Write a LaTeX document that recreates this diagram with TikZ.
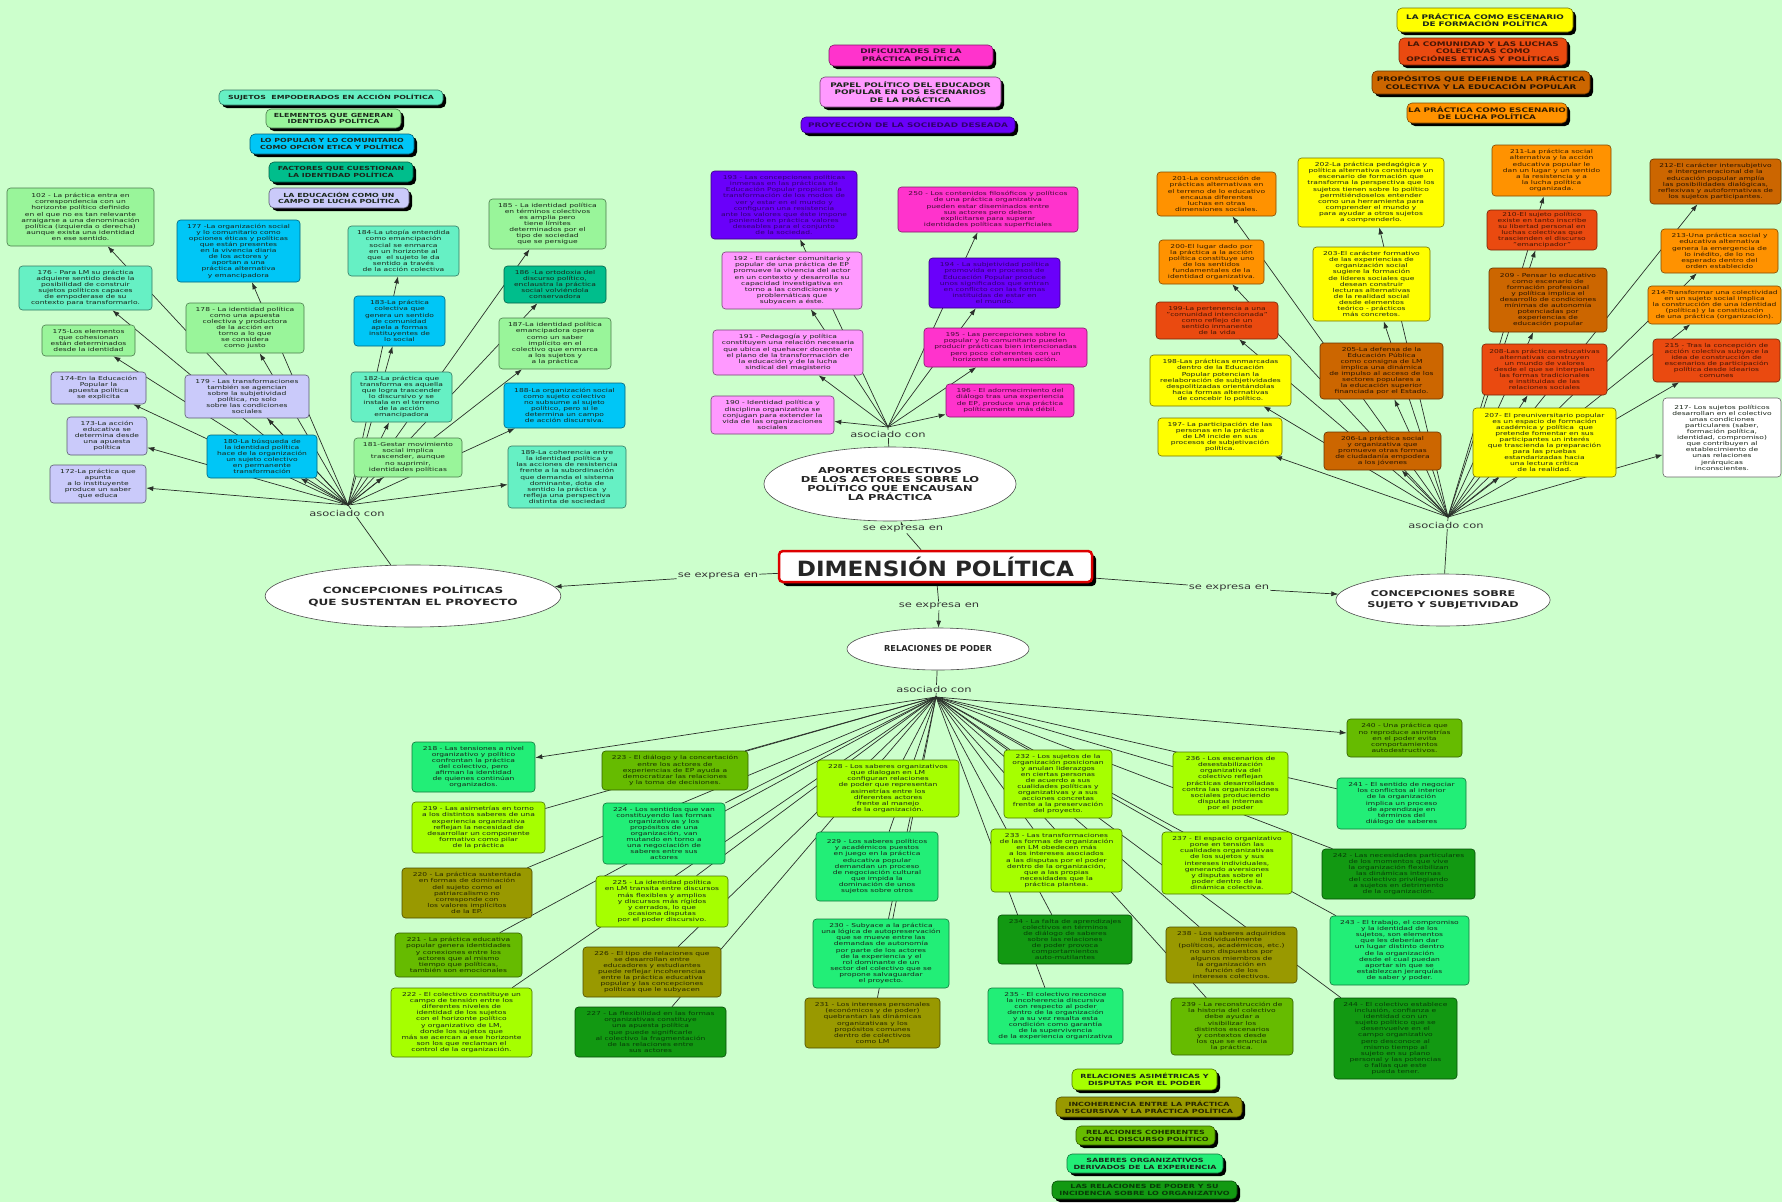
\documentclass[tikz,border=0pt]{standalone}
\usepackage{fontspec}
\setmainfont{DejaVu Sans}[FakeStretch=1.4]
\newfontfamily\titlefam{DejaVu Sans}[FakeStretch=1.1]
\newfontfamily\plainfam{DejaVu Sans}
\usetikzlibrary{shapes.geometric,arrows.meta,shadows}
\pgfdeclarelayer{bgl}\pgfdeclarelayer{lnl}\pgfsetlayers{bgl,lnl,main}
\definecolor{bgc}{HTML}{CCFFCC}
\definecolor{txd}{HTML}{1A261A}
\definecolor{lnc}{HTML}{2A302A}
\definecolor{cPale}{HTML}{99F59A}
\definecolor{cAqua}{HTML}{66F0C4}
\definecolor{cSky}{HTML}{00C6F6}
\definecolor{cTeal}{HTML}{00BE8C}
\definecolor{cLav}{HTML}{CACAFA}
\definecolor{cHot}{HTML}{FF33CC}
\definecolor{cViol}{HTML}{FF99FF}
\definecolor{cPurp}{HTML}{6A00FA}
\definecolor{cYel}{HTML}{FFFF00}
\definecolor{cRed}{HTML}{EA4A10}
\definecolor{cBrn}{HTML}{CC6600}
\definecolor{cOrg}{HTML}{FF9200}
\definecolor{cChart}{HTML}{A6FF00}
\definecolor{cSpring}{HTML}{22EE77}
\definecolor{cYG}{HTML}{66BB00}
\definecolor{cOlive}{HTML}{999900}
\definecolor{cDG}{HTML}{129912}
\definecolor{cTitle}{HTML}{DD0000}
\newcommand\mybody{\fontsize{5.4}{6.1}\selectfont}
\newcommand\mylegL{\fontsize{5.6}{6.2}\selectfont\bfseries}
\newcommand\mylegT{\fontsize{6.3}{7.7}\selectfont\bfseries}
\newcommand\mylegB{\fontsize{5.7}{7}\selectfont\bfseries}
\newcommand\myell{\fontsize{8.2}{9}\selectfont\bfseries}
\newcommand\mylink{\fontsize{8.2}{9}\selectfont}
\newcommand\nbox[7]{\node[#2, minimum width={#5-#3}, minimum height={#6-#4}] (#1) at ({(#3+#5)/2},{(#4+#6)/2}) {#7};}
\tikzset{
 nb/.style={rounded corners=3.5pt, line width=0.6pt, align=center, inner sep=1pt, font=\mybody},
 sPale/.style={nb, fill=cPale, draw=cPale!50!black, text=txd},
 sAqua/.style={nb, fill=cAqua, draw=cAqua!50!black, text=txd},
 sSky/.style={nb, fill=cSky, draw=cSky!50!black, text=txd},
 sTeal/.style={nb, fill=cTeal, draw=cTeal!50!black, text=txd},
 sLav/.style={nb, fill=cLav, draw=cLav!45!black, text=txd},
 sHot/.style={nb, fill=cHot, draw=cHot!50!black, text=cHot!25!black},
 sViol/.style={nb, fill=cViol, draw=cViol!45!black, text=txd},
 sPurp/.style={nb, fill=cPurp, draw=cPurp!50!black, text=cPurp!45!black},
 sYel/.style={nb, fill=cYel, draw=cYel!45!black, text=txd},
 sRed/.style={nb, fill=cRed, draw=cRed!50!black, text=cRed!30!black},
 sBrn/.style={nb, fill=cBrn, draw=cBrn!50!black, text=cBrn!20!black},
 sOrg/.style={nb, fill=cOrg, draw=cOrg!50!black, text=cOrg!20!black},
 sWhite/.style={nb, fill=white, draw=black!60, text=txd},
 sChart/.style={nb, fill=cChart, draw=cChart!45!black, text=txd},
 sSpring/.style={nb, fill=cSpring, draw=cSpring!50!black, text=txd},
 sYG/.style={nb, fill=cYG, draw=cYG!50!black, text=cYG!25!black},
 sOlive/.style={nb, fill=cOlive, draw=cOlive!50!black, text=cOlive!25!black},
 sDG/.style={nb, fill=cDG, draw=cDG!50!black, text=cDG!40!black},
 lg/.style={rounded corners=5pt, drop shadow={shadow xshift=3pt, shadow yshift=-3pt, opacity=1, fill=black}},
 lgL/.style={lg, font=\mylegL},
 lgT/.style={lg, font=\mylegT},
 lgB/.style={lg, font=\mylegB},
 ell/.style={ellipse, draw=black!70, fill=white, line width=0.6pt, inner sep=0pt, align=center, text=black!85, font=\myell},
 link/.style={fill=bgc, inner sep=1pt, text=black!80, font=\mylink},
 conn/.style={draw=lnc, line width=0.7pt},
 arr/.style={conn, -{Latex[length=7pt,width=5pt]}}
}
\begin{document}
\begin{tikzpicture}[x=1pt, y=-1pt]
\begin{pgfonlayer}{bgl}
\fill[bgc] (0,0) rectangle (1782,1202);
\end{pgfonlayer}
\useasboundingbox (0,0) rectangle (1782,1202);

% ---------- legends ----------
\nbox{lg1}{sAqua,lgL}{219}{90}{443}{105}{SUJETOS \ EMPODERADOS EN ACCIÓN POLÍTICA}
\nbox{lg2}{sPale,lgL}{266}{109}{401}{128}{ELEMENTOS QUE GENERAN\\IDENTIDAD POLÍTICA}
\nbox{lg3}{sSky,lgL}{250}{134}{414}{154}{LO POPULAR Y LO COMUNITARIO\\COMO OPCIÓN ETICA Y POLÍTICA}
\nbox{lg4}{sTeal,lgL}{269}{162}{413}{182}{FACTORES QUE CUESTIONAN\\LA IDENTIDAD POLÍTICA}
\nbox{lg5}{sLav,lgL}{269}{188}{409}{208}{LA EDUCACIÓN COMO UN\\CAMPO DE LUCHA POLÍTICA}
\nbox{lg6}{sHot,lgT}{829}{45}{993}{66}{DIFICULTADES DE LA\\PRÁCTICA POLÍTICA}
\nbox{lg7}{sViol,lgT}{820}{77}{1001}{107}{PAPEL POLÍTICO DEL EDUCADOR\\POPULAR EN LOS ESCENARIOS\\DE LA PRÁCTICA}
\nbox{lg8}{sPurp,lgT}{801}{117}{1015}{133}{PROYECCIÓN DE LA SOCIEDAD DESEADA}
\nbox{lg9}{sYel,lgT}{1397}{8}{1573}{32}{LA PRÁCTICA COMO ESCENARIO\\DE FORMACIÓN POLÍTICA}
\nbox{lg10}{sRed,lgT}{1399}{38}{1567}{65}{LA COMUNIDAD Y LAS LUCHAS\\COLECTIVAS COMO\\OPCIÓNES ETICAS Y POLÍTICAS}
\nbox{lg11}{sBrn,lgT}{1372}{71}{1590}{94}{PROPÓSITOS QUE DEFIENDE LA PRÁCTICA\\COLECTIVA Y LA EDUCACIÓN POPULAR}
\nbox{lg12}{sOrg,lgT}{1407}{103}{1567}{123}{LA PRÁCTICA COMO ESCENARIO\\DE LUCHA POLÍTICA}
\nbox{lg13}{sChart,lgB}{1072}{1069}{1217}{1090}{RELACIONES ASIMÉTRICAS Y\\DISPUTAS POR EL PODER}
\nbox{lg14}{sOlive,lgB}{1056}{1097}{1242}{1117}{INCOHERENCIA ENTRE LA PRÁCTICA\\DISCURSIVA Y LA PRÁCTICA POLÍTICA}
\nbox{lg15}{sYG,lgB}{1076}{1126}{1215}{1145}{RELACIONES COHERENTES\\CON EL DISCURSO POLÍTICO}
\nbox{lg16}{sSpring,lgB}{1067}{1154}{1223}{1173}{SABERES ORGANIZATIVOS\\DERIVADOS DE LA EXPERIENCIA}
\nbox{lg17}{sDG,lgB}{1052}{1181}{1237}{1199}{LAS RELACIONES DE PODER Y SU\\INCIDENCIA SOBRE LO ORGANIZATIVO}

% ---------- central concepts ----------
\node[draw=cTitle, line width=2.5pt, rounded corners=4pt, fill=white, text=black!85,
  drop shadow={shadow xshift=4pt, shadow yshift=-4pt, opacity=1, fill=black},
  minimum width=313, minimum height=31, inner sep=0pt,
  font={\titlefam\fontsize{21}{24}\selectfont\bfseries}] (dim) at (935.5,566.5) {DIMENSIÓN POLÍTICA};
\node[ell, minimum width=224, minimum height=74] (eA) at (890,484) {APORTES COLECTIVOS\\DE LOS ACTORES SOBRE LO\\POLÍTICO QUE ENCAUSAN\\LA PRÁCTICA};
\node[ell, minimum width=240, minimum height=62, font={\fontsize{8.6}{12}\selectfont\bfseries}] (eL) at (413,596) {CONCEPCIONES POLÍTICAS\\QUE SUSTENTAN EL PROYECTO};
\node[ell, minimum width=208, minimum height=52, font={\fontsize{8}{11}\selectfont\bfseries}] (eR) at (1443,600) {CONCEPCIONES SOBRE\\SUJETO Y SUBJETIVIDAD};
\node[ell, minimum width=182, minimum height=42, font={\plainfam\fontsize{8.2}{9}\selectfont\bfseries}] (eP) at (938,649) {RELACIONES DE PODER};

\node[link] (lA) at (903,529) {se expresa en};
\node[link] (lL) at (718,576) {se expresa en};
\node[link] (lR) at (1229,588) {se expresa en};
\node[link] (lB) at (939,606) {se expresa en};
\node[link] (asL) at (347,513) {asociado con};
\node[link] (asA) at (888,434) {asociado con};
\node[link] (asR) at (1446,525) {asociado con};
\node[link] (asB) at (934,689) {asociado con};
\coordinate (hL) at (348,505);
\coordinate (hA) at (888,427);
\coordinate (hR) at (1448,517);
\coordinate (hB) at (936,697);

% ---------- left group ----------
\nbox{n102}{sPale}{7}{188}{154}{246}{102 - La práctica entra en\\correspondencia con un\\horizonte político definido\\en el que no es tan relevante\\arraigarse a una denominación\\política (izquierda o derecha)\\aunque exista una identidad\\en ese sentido.}
\nbox{n176}{sAqua}{19}{266}{152}{310}{176 - Para LM su práctica\\adquiere sentido desde la\\posibilidad de construir\\sujetos políticos capaces\\de empoderase de su\\contexto para transformarlo.}
\nbox{n175}{sPale}{42}{325}{135}{356}{175-Los elementos\\que cohesionan\\están determinados\\desde la identidad}
\nbox{n174}{sLav}{51}{372}{146}{404}{174-En la Educación\\Popular la\\apuesta política\\se explicita}
\nbox{n173}{sLav}{67}{417}{147}{455}{173-La acción\\educativa se\\determina desde\\una apuesta\\política}
\nbox{n172}{sLav}{50}{465}{146}{503}{172-La práctica que\\apunta\\a lo instituyente\\produce un saber\\que educa}
\nbox{n177}{sSky}{177}{220}{300}{282}{177 -La organización social\\y lo comunitario como\\opciones éticas y políticas\\que están presentes\\en la vivencia diaria\\de los actores y\\aportan a una\\práctica alternativa\\y emancipadora}
\nbox{n178}{sPale}{186}{303}{304}{353}{178 - La identidad política\\como una apuesta\\colectiva y productora\\de la acción en\\torno a lo que\\se considera\\como justo}
\nbox{n179}{sLav}{185}{375}{309}{418}{179 - Las transformaciones\\también se agencian\\sobre la subjetividad\\política, no solo\\sobre las condiciones\\sociales}
\nbox{n180}{sSky}{207}{435}{317}{478}{180-La búsqueda de\\la identidad política\\hace de la organización\\un sujeto colectivo\\en permanente\\transformación}
\nbox{n184}{sAqua}{348}{226}{459}{276}{184-La utopía entendida\\como emancipación\\social se enmarca\\en un horizonte al\\que \ el sujeto le da\\sentido a través\\de la acción colectiva}
\nbox{n183}{sSky}{354}{296}{445}{346}{183-La práctica\\colectiva que\\genera un sentido\\de comunidad\\apela a formas\\instituyentes de\\lo social}
\nbox{n182}{sAqua}{351}{372}{452}{422}{182-La práctica que\\transforma es aquella\\que logra trascender\\lo discursivo y se\\instala en el terreno\\de la acción\\emancipadora}
\nbox{n181}{sPale}{354}{438}{462}{477}{181-Gestar movimiento\\social implica\\trascender, aunque\\no suprimir,\\identidades políticas}
\nbox{n185}{sPale}{489}{199}{606}{249}{185 - La identidad política\\en términos colectivos\\es amplia pero\\tiene límites\\determinados por el\\tipo de sociedad\\que se persigue}
\nbox{n186}{sTeal}{504}{266}{606}{303}{186 -La ortodoxia del\\discurso político,\\enclaustra la práctica\\social volviéndola\\conservadora}
\nbox{n187}{sPale}{499}{318}{611}{369}{187-La identidad política\\emancipadora opera\\como un saber\\implícito en el\\colectivo que enmarca\\a los sujetos y\\a la práctica}
\nbox{n188}{sSky}{504}{383}{625}{428}{188-La organización social\\como sujeto colectivo\\no subsume al sujeto\\político, pero si le\\determina un campo\\de acción discursiva.}
\nbox{n189}{sAqua}{508}{446}{626}{508}{189-La coherencia entre\\la identidad política y\\las acciones de resistencia\\frente a la subordinación\\que demanda el sistema\\dominante, dota de\\sentido la práctica \ y\\refleja una perspectiva\\distinta de sociedad}

% ---------- top centre group ----------
\nbox{n193}{sPurp}{711}{171}{857}{239}{193 - Las concepciones políticas\\inmersas en las prácticas de\\Educación Popular propician la\\transformación de los modos de\\ver y estar en el mundo y\\configuran una resistencia\\ante los valores que éste impone\\poniendo en práctica valores\\deseables para el conjunto\\de la sociedad.}
\nbox{n192}{sViol}{722}{252}{862}{309}{192 - El carácter comunitario y\\popular de una práctica de EP\\promueve la vivencia del actor\\en un contexto y desarrolla su\\capacidad investigativa en\\torno a las condiciones y\\problemáticas que\\subyacen a éste.}
\nbox{n191}{sViol}{713}{330}{863}{375}{191 - Pedagogía y política\\constituyen una relación necesaria\\que ubica el quehacer docente en\\el plano de la transformación de\\la educación y de la lucha\\sindical del magisterio}
\nbox{n190}{sViol}{711}{396}{834}{434}{190 - Identidad política y\\disciplina organizativa se\\conjugan para extender la\\vida de las organizaciones\\sociales}
\nbox{n250}{sHot}{898}{187}{1078}{232}{250 - Los contenidos filosóficos y políticos\\de una práctica organizativa\\pueden estar diseminados entre\\sus actores pero deben\\explicitarse para superar\\identidades políticas superficiales}
\nbox{n194}{sPurp}{929}{258}{1060}{308}{194 - La subjetividad política\\promovida en procesos de\\Educación Popular produce\\unos significados que entran\\en conflicto con las formas\\instituidas de estar en\\el mundo.}
\nbox{n195}{sHot}{924}{328}{1087}{367}{195 - Las percepciones sobre lo\\popular y lo comunitario pueden\\producir prácticas bien intencionadas\\pero poco coherentes con un\\horizonte de emancipación.}
\nbox{n196}{sHot}{946}{384}{1074}{417}{196 - El adormecimiento del\\diálogo tras una experiencia\\de EP, produce una práctica\\políticamente más débil.}

% ---------- right group ----------
\nbox{n201}{sOrg}{1157}{172}{1276}{216}{201-La construcción de\\prácticas alternativas en\\el terreno de lo educativo\\encausa diferentes\\luchas en otras\\dimensiones sociales.}
\nbox{n202}{sYel}{1298}{158}{1444}{227}{202-La práctica pedagógica y\\política alternativa constituye un\\escenario de formación que\\transforma la perspectiva que los\\sujetos tienen sobre lo político\\permitiéndoselos entender\\como una herramienta para\\comprender el mundo y\\para ayudar a otros sujetos\\a comprenderlo.}
\nbox{n200}{sOrg}{1159}{240}{1264}{284}{200-El lugar dado por\\la práctica a la acción\\política constituye uno\\de los sentidos\\fundamentales de la\\identidad organizativa.}
\nbox{n203}{sYel}{1313}{247}{1430}{321}{203-El carácter formativo\\de las experiencias de\\organización social\\sugiere la formación\\de líderes sociales que\\desean construir\\lecturas alternativas\\de la realidad social\\desde elementos\\teórico - prácticos\\más concretos.}
\nbox{n199}{sRed}{1156}{302}{1278}{339}{199-La pertenencia a una\\"comunidad intencionada"\\como reflejo de un\\sentido inmanente\\de la vida}
\nbox{n198}{sYel}{1150}{355}{1291}{406}{198-Las prácticas enmarcadas\\dentro de la Educación\\Popular potencian la\\reelaboración de subjetividades\\despolitizadas orientándolas\\hacia formas alternativas\\de concebir lo político.}
\nbox{n205}{sBrn}{1320}{343}{1443}{399}{205-La defensa de la\\Educación Pública\\como consigna de LM\\implica una dinámica\\de impulso al acceso de los\\sectores populares a\\la educación superior\\financiada por el Estado.}
\nbox{n197}{sYel}{1158}{418}{1282}{456}{197- La participación de las\\personas en la práctica\\de LM incide en sus\\procesos de subjetivación\\política.}
\nbox{n206}{sBrn}{1324}{432}{1441}{470}{206-La práctica social\\y organizativa que\\promueve otras formas\\de ciudadanía empodera\\a los jóvenes}
\nbox{n211}{sOrg}{1492}{145}{1611}{196}{211-La práctica social\\alternativa y la acción\\educativa popular le\\dan un lugar y un sentido\\a la resistencia y a\\la lucha política\\organizada.}
\nbox{n212}{sBrn}{1650}{159}{1781}{204}{212-El carácter intersubjetivo\\e intergeneracional de la\\educación popular amplía\\las posibilidades dialógicas,\\reflexivas y autoformativas de\\los sujetos participantes.}
\nbox{n210}{sRed}{1487}{210}{1597}{250}{210-El sujeto político\\existe en tanto inscribe\\su libertad personal en\\luchas colectivas que\\trascienden el discurso\\"emancipador"}
\nbox{n213}{sOrg}{1661}{229}{1778}{273}{213-Una práctica social y\\educativa alternativa\\genera la emergencia de\\lo inédito, de lo no\\esperado dentro del\\orden establecido}
\nbox{n209}{sBrn}{1489}{268}{1607}{332}{209 - Pensar lo educativo\\como escenario de\\formación profesional\\y política implica el\\desarrollo de condiciones\\mínimas de autonomía\\potenciadas por\\experiencias de\\educación popular}
\nbox{n214}{sOrg}{1648}{286}{1781}{324}{214-Transformar una colectividad\\en un sujeto social implica\\la construcción de una identidad\\(política) y la constitución\\de una práctica (organización).}
\nbox{n208}{sRed}{1482}{344}{1607}{395}{208-Las prácticas educativas\\alternativas construyen\\un mundo de valores\\desde el que se interpelan\\las formas tradicionales\\e instituidas de las\\relaciones sociales}
\nbox{n215}{sRed}{1653}{339}{1780}{382}{215 - Tras la concepción de\\acción colectiva subyace la\\idea de construcción de\\escenarios de participación\\política desde idearios\\comunes}
\nbox{n207}{sYel}{1473}{408}{1616}{477}{207- El preuniversitario popular\\es un espacio de formación\\académica y política \ que\\pretende fomentar en sus\\participantes un interés\\que trascienda la preparación\\para las pruebas\\estandarizadas hacia\\una lectura crítica\\de la realidad.}
\nbox{n217}{sWhite}{1663}{398}{1781}{477}{217- Los sujetos políticos\\desarrollan en el colectivo\\unas condiciones\\particulares (saber,\\formación política,\\identidad, compromiso)\\que contribuyen al\\establecimiento de\\unas relaciones\\jerárquicas\\inconscientes.}

% ---------- bottom group ----------
\nbox{n218}{sSpring}{412}{742}{535}{792}{218 - Las tensiones a nivel\\organizativo y político\\confrontan la práctica\\del colectivo, pero\\afirman la identidad\\de quienes continúan\\organizados.}
\nbox{n219}{sChart}{412}{802}{545}{853}{219 - Las asimetrías en torno\\a los distintos saberes de una\\experiencia organizativa\\reflejan la necesidad de\\desarrollar un componente\\formativo como pilar\\de la práctica}
\nbox{n220}{sOlive}{402}{868}{532}{918}{220 - La práctica sustentada\\en formas de dominación\\del sujeto como el\\patriarcalismo no\\corresponde con\\los valores implícitos\\de la EP.}
\nbox{n221}{sYG}{395}{933}{522}{977}{221 - La práctica educativa\\popular genera identidades\\y conexiones entre los\\actores que al mismo\\tiempo que políticas,\\también son emocionales}
\nbox{n222}{sChart}{391}{988}{532}{1057}{222 - El colectivo constituye un\\campo de tensión entre los\\diferentes niveles de\\identidad de los sujetos\\con el horizonte político\\y organizativo de LM,\\donde los sujetos que\\más se acercan a ese horizonte\\son los que reclaman el\\control de la organización.}
\nbox{n223}{sYG}{602}{751}{748}{790}{223 - El diálogo y la concertación\\entre los actores de\\experiencias de EP ayuda a\\democratizar las relaciones\\y la toma de decisiones.}
\nbox{n224}{sSpring}{603}{803}{725}{864}{224 - Los sentidos que van\\constituyendo las formas\\organizativas y los\\propósitos de una\\organización, van\\mutando en torno a\\una negociación de\\saberes entre sus\\actores}
\nbox{n225}{sChart}{596}{876}{728}{927}{225 - La identidad política\\en LM transita entre discursos\\más flexibles y amplios\\y discursos más rígidos\\y cerrados, lo que\\ocasiona disputas\\por el poder discursivo.}
\nbox{n226}{sOlive}{583}{947}{721}{997}{226 - El tipo de relaciones que\\se desarrollan entre\\educadores y estudiantes\\puede reflejar incoherencias\\entre la práctica educativa\\popular y las concepciones\\políticas que le subyacen}
\nbox{n227}{sDG}{575}{1007}{726}{1057}{227 - La flexibilidad en las formas\\organizativas constituye\\una apuesta política\\que puede significarle\\al colectivo la fragmentación\\de las relaciones entre\\sus actores}
\nbox{n228}{sChart}{817}{760}{959}{817}{228 - Los saberes organizativos\\que dialogan en LM\\configuran relaciones\\de poder que representan\\asimetrías entre los\\diferentes actores\\frente al manejo\\de la organización.}
\nbox{n229}{sSpring}{816}{832}{938}{901}{229 - Los saberes políticos\\y académicos puestos\\en juego en la práctica\\educativa popular\\demandan un proceso\\de negociación cultural\\que impida la\\dominación de unos\\sujetos sobre otros}
\nbox{n230}{sSpring}{813}{919}{949}{988}{230 - Subyace a la práctica\\una lógica de autopreservación\\que se mueve entre las\\demandas de autonomía\\por parte de los actores\\de la experiencia y el\\rol dominante de un\\sector del colectivo que se\\propone salvaguardar\\el proyecto.}
\nbox{n231}{sOlive}{805}{998}{940}{1048}{231 - Los intereses personales\\(económicos y de poder)\\quebrantan las dinámicas\\organizativas y los\\propósitos comunes\\dentro de colectivos\\como LM}
\nbox{n232}{sChart}{1004}{750}{1112}{818}{232 - Los sujetos de la\\organización posicionan\\y anulan liderazgos\\en ciertas personas\\de acuerdo a sus\\cualidades políticas y\\organizativas y a sus\\acciones concretas\\frente a la preservación\\del proyecto.}
\nbox{n233}{sChart}{991}{829}{1122}{892}{233 - Las transformaciones\\de las formas de organización\\en LM obedecen más\\a los intereses asociados\\a las disputas por el poder\\dentro de la organización,\\que a las propias\\necesidades que la\\práctica plantea.}
\nbox{n234}{sDG}{998}{915}{1132}{964}{234 - La falta de aprendizajes\\colectivos en términos\\de diálogo de saberes\\sobre las relaciones\\de poder provoca\\comportamientos\\auto-mutilantes}
\nbox{n235}{sSpring}{988}{988}{1123}{1044}{235 - El colectivo reconoce\\la incoherencia discursiva\\con respecto al poder\\dentro de la organización\\y a su vez resalta esta\\condición como garantía\\de la supervivencia\\de la experiencia organizativa}
\nbox{n240}{sYG}{1347}{719}{1462}{757}{240 - Una práctica que\\no reproduce asimetrías\\en el poder evita\\comportamientos\\autodestructivos.}
\nbox{n236}{sChart}{1173}{752}{1288}{815}{236 - Los escenarios de\\desestabilización\\organizativa del\\colectivo reflejan\\prácticas desarrolladas\\contra las organizaciones\\sociales produciendo\\disputas internas\\por el poder}
\nbox{n241}{sSpring}{1337}{778}{1466}{829}{241 - El sentido de negociar\\los conflictos al interior\\de la organización\\implica un proceso\\de aprendizaje en\\términos del\\diálogo de saberes}
\nbox{n237}{sChart}{1162}{832}{1292}{894}{237 - El espacio organizativo\\pone en tensión las\\cualidades organizativas\\de los sujetos y sus\\intereses individuales,\\generando aversiones\\y disputas sobre el\\poder dentro de la\\dinámica colectiva.}
\nbox{n242}{sDG}{1322}{849}{1475}{899}{242 - Las necesidades particulares\\de los momentos que vive\\la organización flexibilizan\\las dinámicas internas\\del colectivo privilegiando\\a sujetos en detrimento\\de la organización.}
\nbox{n238}{sOlive}{1166}{927}{1297}{983}{238 - Los saberes adquiridos\\individualmente\\(políticos, académicos, etc.)\\no son dispuestos por\\algunos miembros de\\la organización en\\función de los\\intereses colectivos.}
\nbox{n243}{sSpring}{1330}{916}{1469}{985}{243 - El trabajo, el compromiso\\y la identidad de los\\sujetos, son elementos\\que les deberían dar\\un lugar distinto dentro\\de la organización\\desde el cual puedan\\aportar sin que se\\establezcan jerarquías\\de saber y poder.}
\nbox{n239}{sYG}{1171}{998}{1293}{1055}{239 - La reconstrucción de\\la historia del colectivo\\debe ayudar a\\visibilizar los\\distintos escenarios\\y contextos desde\\los que se enuncia\\la práctica.}
\nbox{n244}{sDG}{1334}{998}{1457}{1079}{244 - El colectivo establece\\inclusión, confianza e\\identidad con un\\sujeto político que se\\desenvuelve en el\\campo organizativo\\pero desconoce al\\mismo tiempo al\\sujeto en su plano\\personal y las potencias\\o fallas que este\\pueda tener.}

% ---------- connectors ----------
\begin{pgfonlayer}{lnl}
\draw[conn] (dim) -- (lA); \draw[arr] (lA) -- (eA);
\draw[conn] (dim) -- (lL); \draw[arr] (lL) -- (eL);
\draw[conn] (dim) -- (lR); \draw[arr] (lR) -- (eR);
\draw[conn] (dim) -- (lB); \draw[arr] (lB) -- (eP);
\draw[conn] (eL) -- (hL);
\draw[conn] (eA) -- (hA);
\draw[conn] (eR) -- (hR);
\draw[conn] (eP) -- (hB);
\foreach \n in {n102,n176,n175,n174,n173,n172,n177,n178,n179,n180,n184,n183,n182,n181,n185,n186,n187,n188,n189}
  \draw[arr] (hL) -- (\n);
\foreach \n in {n193,n192,n191,n190,n250,n194,n195,n196}
  \draw[arr] (hA) -- (\n);
\foreach \n in {n201,n202,n200,n203,n199,n198,n205,n197,n206,n211,n212,n210,n213,n209,n214,n208,n215,n207,n217}
  \draw[arr] (hR) -- (\n);
\draw[arr] (hB) -- (n218);
\draw[arr] (hB) -- (n240);
\foreach \n in {n219,n220,n221,n222,n223,n224,n225,n226,n227,n228,n229,n230,n231,n232,n233,n234,n235,n236,n241,n237,n242,n238,n243,n239,n244}
  \draw[conn] (hB) -- (\n);
\end{pgfonlayer}
\end{tikzpicture}
\end{document}
